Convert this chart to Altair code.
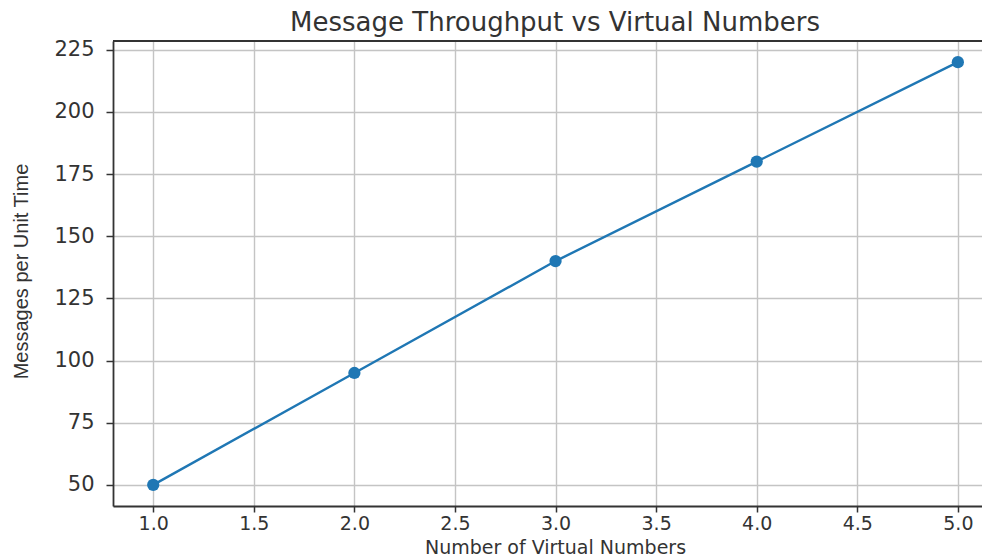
import altair as alt
import pandas as pd

virtual_numbers = [1, 2, 3, 4, 5]
messages = [50, 95, 140, 180, 220]
x_ticks = [1.0, 1.5, 2.0, 2.5, 3.0, 3.5, 4.0, 4.5, 5.0]
y_ticks = [50, 75, 100, 125, 150, 175, 200, 225]
chart_title = "Message Throughput vs Virtual Numbers"

df = pd.DataFrame({"n": virtual_numbers, "m": messages})
one = pd.DataFrame({"t": [chart_title]})

W, H = 869, 465

x = alt.X("n:Q", scale=alt.Scale(domain=[0.8, 5.12], nice=False, zero=False),
          axis=alt.Axis(values=x_ticks, format=".1f", title="Number of Virtual Numbers",
                        titleX=442, titleY=47, titleAlign="center", titleBaseline="alphabetic",
                        titleFont="DejaVu Sans", titleFontSize=19, titleFontWeight="normal",
                        titleColor="#333333",
                        labelFont="DejaVu Sans", labelFontSize=19, labelColor="#333333",
                        labelPadding=2, tickSize=6, tickWidth=1.5, tickColor="#333333",
                        domainColor="#333333", domainWidth=1.8,
                        grid=True, gridColor="#c4c4c4", gridWidth=1.4))
y = alt.Y("m:Q", scale=alt.Scale(domain=[41.5, 228.5], nice=False, zero=False),
          axis=alt.Axis(values=y_ticks, format="d", title="Messages per Unit Time",
                        titleX=-92, titleY=230, titleAlign="center", titleBaseline="middle",
                        titleAngle=-90,
                        titleFont="Liberation Sans", titleFontSize=20, titleFontWeight="normal",
                        titleColor="#333333",
                        labelFont="DejaVu Sans", labelFontSize=21, labelColor="#333333",
                        labelPadding=12, tickSize=7, tickWidth=1.5, tickColor="#333333",
                        domainColor="#333333", domainWidth=1.8,
                        grid=True, gridColor="#c4c4c4", gridWidth=1.4))

line = alt.Chart(df).mark_line(color="#1f77b4", strokeWidth=2.4).encode(x=x, y=y)
pts = alt.Chart(df).mark_circle(color="#1f77b4", size=150, opacity=1).encode(x="n:Q", y="m:Q")
top = alt.Chart(one).mark_rule(color="#333333", strokeWidth=1.8).encode(
    x=alt.value(0), x2=alt.value(W), y=alt.value(0))
title = alt.Chart(one).mark_text(
    font="DejaVu Sans", fontSize=26, color="#333333", align="center", baseline="alphabetic"
).encode(x=alt.value(442), y=alt.value(-10), text="t:N")

chart = alt.layer(line, pts, top, title).properties(
    width=W, height=H,
    autosize="none",
    padding={"left": 105, "top": 33, "right": 0, "bottom": 50},
).configure_view(strokeWidth=0).configure(background="white")

chart.save("out.html", embed_options={"renderer": "svg", "actions": False})
